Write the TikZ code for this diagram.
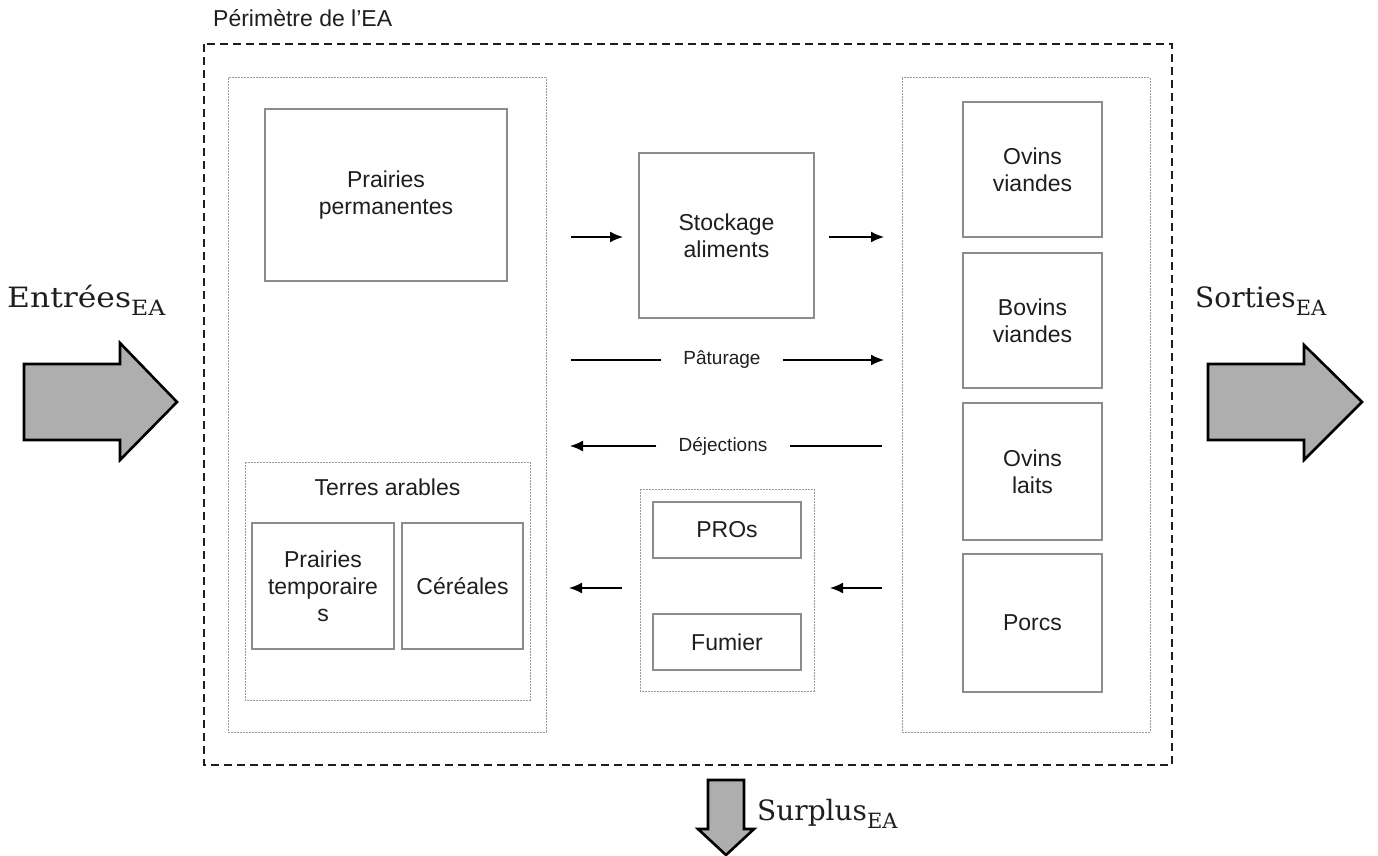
\documentclass[tikz,border=0pt]{standalone}
\usepackage{fontspec}
\setmainfont{Liberation Sans}
\newfontfamily\labelserif{DejaVu Serif}
\newfontfamily\labelserifwide[FakeStretch=1.12]{DejaVu Serif}
\usetikzlibrary{arrows.meta}

\definecolor{boxgray}{HTML}{8C8C8C}
\definecolor{dotgray}{HTML}{9A9A9A}
\definecolor{arrowfill}{HTML}{AEAEAE}
\definecolor{inkc}{HTML}{1E1E1E}

\tikzset{
  unit/.style={draw=boxgray, line width=1.3pt, text=inkc, align=center,
    inner sep=0pt, font=\fontsize{23}{27}\selectfont},
  group/.style={draw=dotgray, line width=1pt, dash pattern=on 2pt off 1pt},
  perimeter/.style={draw=inkc, line width=1.3pt, dash pattern=on 8pt off 5pt},
  flow/.style={line width=1.6pt, draw=black, -{Latex[length=13pt,width=11pt]}},
  flowline/.style={line width=1.6pt, draw=black},
  flowlabel/.style={text=inkc, font=\fontsize{19}{22}\selectfont, inner xsep=22pt, inner ysep=0pt},
  bigarrow/.style={fill=arrowfill, draw=black, line width=2.6pt, line join=miter},
  serifname/.style={text=inkc, inner sep=0pt, anchor=base west}
}

\newcommand{\subEA}{\raisebox{-8pt}{\fontsize{21}{21}\selectfont EA}}

\begin{document}
\begin{tikzpicture}[x=1pt, y=-1pt]
\useasboundingbox (0,0) rectangle (1378,856);

% farm perimeter
\draw[perimeter] (204,44) rectangle (1172,765);
\node[anchor=west, inner sep=0pt, text=inkc, font=\fontsize{23}{27}\selectfont] (title) at (213,18) {Périmètre de l’EA};

% crop side and livestock side
\draw[group] (228,78) rectangle (546,732);
\draw[group] (902,78) rectangle (1150,732);
\draw[group] (245,462) rectangle (530,700);
\draw[group] (640,489) rectangle (814,691);

% land units
\node[unit, minimum width=242, minimum height=172] (pp) at (386,195) {Prairies\\permanentes};
\node[text=inkc, inner sep=0pt, font=\fontsize{23}{27}\selectfont] (ta) at (387.5,487) {Terres arables};
\node[unit, minimum width=142, minimum height=126] (pt) at (323,586) {Prairies\\temporaire\\s};
\node[unit, minimum width=121, minimum height=126] (cer) at (462.5,586) {Céréales};

% storage and manure
\node[unit, minimum width=175, minimum height=165] (stock) at (726.5,235.5) {Stockage\\aliments};
\node[unit, minimum width=148, minimum height=56] (pros) at (727,530) {PROs};
\node[unit, minimum width=148, minimum height=56] (fum) at (727,642) {Fumier};

% livestock units
\node[unit, minimum width=139, minimum height=135] (ov) at (1032.5,169.5) {Ovins\\viandes};
\node[unit, minimum width=139, minimum height=135] (bv) at (1032.5,320.5) {Bovins\\viandes};
\node[unit, minimum width=139, minimum height=137] (ol) at (1032.5,471.5) {Ovins\\laits};
\node[unit, minimum width=139, minimum height=138] (pc) at (1032.5,623) {Porcs};

% flow end points
\coordinate (feedA) at (571,237);
\coordinate (feedB) at (623,237);
\coordinate (feedC) at (829,237);
\coordinate (feedD) at (884,237);
\coordinate (grzA) at (571,360);
\coordinate (grzB) at (884,360);
\coordinate (dejA) at (570,446);
\coordinate (dejB) at (882,446);
\coordinate (manA) at (882,588);
\coordinate (manB) at (830,588);
\coordinate (manC) at (622,588);
\coordinate (manD) at (569,588);

% feed flows
\draw[flow] (feedA) -- (feedB);
\draw[flow] (feedC) -- (feedD);

% grazing and excreta
\node[flowlabel] (grz) at (722,360) {Pâturage};
\draw[flowline] (grzA) -- (grz.west);
\draw[flow] (grz.east) -- (grzB);
\node[flowlabel] (dej) at (723,446) {Déjections};
\draw[flowline] (dejB) -- (dej.east);
\draw[flow] (dej.west) -- (dejA);

% manure flows
\draw[flow] (manA) -- (manB);
\draw[flow] (manC) -- (manD);

% inputs
\draw[bigarrow] (24,364) -- (120,364) -- (120,343) -- (177,402) -- (120,460) -- (120,440) -- (24,440) -- cycle;
\node[serifname, font=\labelserifwide\fontsize{28}{30}\selectfont] (inlab) at (7,307) {Entrées\subEA};

% outputs
\draw[bigarrow] (1208,364) -- (1304,364) -- (1304,345) -- (1362,402) -- (1304,460) -- (1304,440) -- (1208,440) -- cycle;
\node[serifname, font=\labelserif\fontsize{28}{30}\selectfont] (outlab) at (1195,307) {Sorties\subEA};

% surplus
\draw[bigarrow] (708,780) -- (744,780) -- (744,829) -- (754,829) -- (726,855) -- (698,829) -- (708,829) -- cycle;
\node[serifname, font=\labelserif\fontsize{28}{30}\selectfont] (surlab) at (757,820) {Surplus\subEA};

\end{tikzpicture}
\end{document}
